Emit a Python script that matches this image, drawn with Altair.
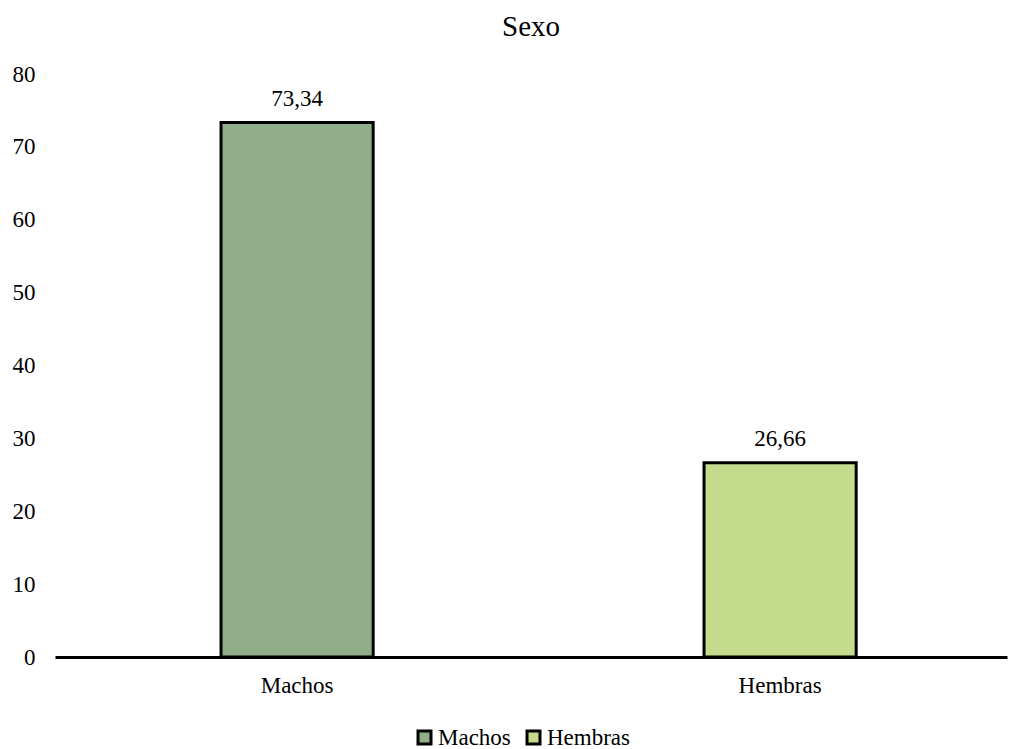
import altair as alt
import pandas as pd

# Distribution by sex (%)
categorias = ["Machos", "Hembras"]
valores = [73.34, 26.66]
colores = ["#8fae89", "#c4da8c"]

df = pd.DataFrame({"Sexo": categorias, "Porcentaje": valores})
df["Etiqueta"] = [f"{v:.2f}".replace(".", ",") for v in valores]

FONT = "Liberation Serif"
FS = 23

x_enc = alt.X(
    "Sexo:N",
    sort=categorias,
    title=None,
    scale=alt.Scale(paddingInner=0.685, paddingOuter=0.328, align=0.524),
    axis=alt.Axis(
        labelAngle=0, labelFont=FONT, labelFontSize=FS, labelColor="black",
        labelPadding=17, ticks=False, domainColor="black", domainWidth=3,
    ),
)
y_enc = alt.Y(
    "Porcentaje:Q",
    title=None,
    scale=alt.Scale(domain=[0, 80]),
    axis=alt.Axis(
        values=[0, 10, 20, 30, 40, 50, 60, 70, 80], grid=False, domain=False,
        ticks=False, labelFont=FONT, labelFontSize=FS, labelColor="black",
        labelPadding=20,
    ),
)

bars = alt.Chart(df).mark_bar(stroke="black", strokeWidth=3).encode(
    x=x_enc,
    y=y_enc,
    color=alt.Color(
        "Sexo:N",
        sort=categorias,
        scale=alt.Scale(domain=categorias, range=colores),
        legend=alt.Legend(
            title=None, orient="none", direction="horizontal",
            legendX=358, legendY=652, symbolType="square", symbolSize=169,
            symbolStrokeColor="black", symbolStrokeWidth=3,
            labelFont=FONT, labelFontSize=FS, labelColor="black",
            labelOffset=2, columnPadding=10,
        ),
    ),
)

labels = alt.Chart(df).mark_text(
    baseline="bottom", dy=-12, font=FONT, fontSize=FS, color="black"
).encode(x=alt.X("Sexo:N", sort=categorias), y="Porcentaje:Q", text="Etiqueta:N")

chart = (
    alt.layer(bars, labels)
    .properties(
        width=952,
        height=583,
        title=alt.TitleParams(
            "Sexo", font=FONT, fontSize=29, fontWeight="normal", color="black",
            anchor="middle", offset=21,
        ),
        autosize=alt.AutoSizeParams(type="none"),
        padding={"left": 55, "top": 74, "right": 2, "bottom": 92},
    )
    .configure(background="white")
    .configure_view(strokeWidth=0, stroke=None)
)

chart.save("out.html", embed_options={"renderer": "svg", "actions": False})
